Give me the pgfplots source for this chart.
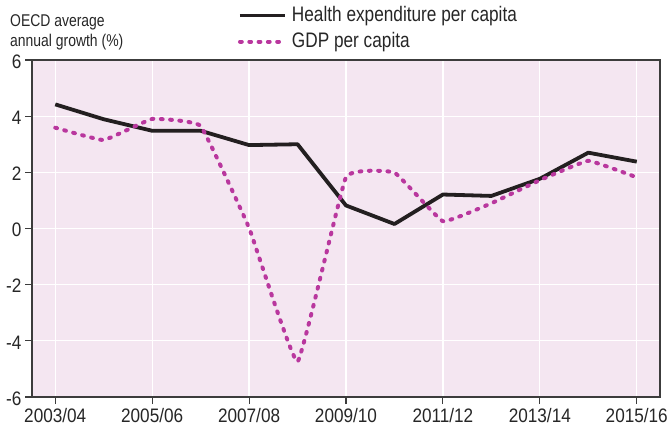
\documentclass[border=0pt]{standalone}
\usepackage{fontspec}
\setmainfont{Liberation Sans}[FakeStretch=0.88]
\newfontfamily\narrowfont{Liberation Sans}[FakeStretch=0.82]
\usepackage{pgfplots}
\pgfplotsset{compat=1.18}
\definecolor{bgpink}{RGB}{244,230,241}
\definecolor{healthblack}{RGB}{35,31,32}
\definecolor{gdpmag}{RGB}{185,55,158}
\definecolor{axgray}{RGB}{60,60,60}
\begin{document}
\begin{tikzpicture}[x=1pt,y=1pt]
\useasboundingbox (0,0) rectangle (668,432);
\begin{axis}[
  at={(32pt,35pt)}, anchor=south west,
  scale only axis, width=628pt, height=337pt,
  xmin=-0.48, xmax=12.48, ymin=-6, ymax=6,
  xtick={0,2,...,12},
  xticklabels={2003/04,2005/06,2007/08,2009/10,2011/12,2013/14,2015/16},
  ytick={-6,-4,...,6},
  axis background/.style={fill=bgpink},
  axis line style={axgray, line width=1.1pt},
  grid=major, major grid style={white, line width=1.3pt},
  tick align=outside, major tick length=7pt,
  tick style={axgray, line width=1.1pt},
  xtick pos=bottom, ytick pos=left,
  /pgf/number format/assume math mode=true,
  ticklabel style={font=\fontsize{19.5}{20}\selectfont, text=black!85},
  xticklabel style={yshift=-1pt},
  yticklabel style={yshift=-1.5pt},
  legend style={at={(axis description cs:0.328,1.160)}, anchor=north west,
    draw=none, fill=none, inner sep=0pt, outer sep=0pt,
    font=\narrowfont\fontsize{21}{21}\selectfont, text=black!85,
    row sep=7pt, column sep=5pt,
    nodes={inner sep=0pt, text height=15pt, text depth=4pt}},
  legend cell align=left,
  legend image code/.code={\draw[#1] (0pt,0pt) -- (45pt,0pt);},
  clip=false,
]
\addplot[healthblack, line width=3.8pt, line join=round] coordinates {
(0,4.42) (1,3.89) (2,3.48) (3,3.48) (4,2.97) (5,3.00) (6,0.82)
(7,0.16) (8,1.21) (9,1.16) (10,1.77) (11,2.70) (12,2.38)};
\addlegendentry{Health expenditure per capita}
\addplot[gdpmag, line width=4pt, line cap=round, dash pattern=on 1.8pt off 7.5pt, smooth, tension=0.17] coordinates {
(0,3.59) (1,3.15) (2,3.90) (3,3.65) (4,0.02) (5,-4.74) (6,1.83)
(7,1.99) (8,0.26) (9,0.90) (10,1.72) (11,2.41) (12,1.82)};
\addlegendentry{GDP per capita}
\end{axis}
\node[anchor=base west, inner sep=0pt, font=\narrowfont\fontsize{17}{17}\selectfont, text=black!85] at (10pt,405pt) {OECD average};
\node[anchor=base west, inner sep=0pt, font=\narrowfont\fontsize{17}{17}\selectfont, text=black!85] at (10pt,385pt) {annual growth (\%)};
\end{tikzpicture}
\end{document}
